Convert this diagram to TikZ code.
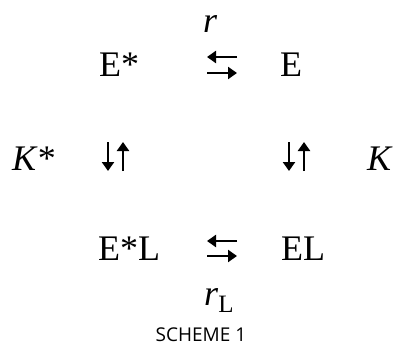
\documentclass[tikz,border=0pt]{standalone}
\usepackage{fontspec}
\setmainfont{Liberation Serif}
\newfontfamily\capfont{Open Sans}
\usetikzlibrary{arrows.meta}
\begin{document}
\begin{tikzpicture}[x=1pt,y=-1pt,
  lbl/.style={anchor=base west,inner sep=0pt,font=\fontsize{36}{40}\selectfont},
  rxn/.style={line width=2.9pt,-{Triangle[length=9pt,width=12pt]}}]
\useasboundingbox (0,0) rectangle (396,345);
% species
\node[lbl] (Es) at (99,77) {E*};
\node[lbl] (E) at (280,77) {E};
\node[lbl] (EsL) at (98,260) {E*L};
\node[lbl] (EL) at (281,260) {EL};
\node[lbl] (Ks) at (12,170) {\textit{K}*};
\node[lbl] (K) at (367,170) {\textit{K}};
\node[lbl] (r) at (203,33) {\textit{r}};
\node[lbl] (rL) at (204,305) {\textit{r}\raisebox{-7pt}{\fontsize{25}{28}\selectfont L}};
\node[anchor=base,inner sep=0pt,font=\capfont\fontsize{19}{22}\selectfont] (cap) at (201,341) {SCHEME 1};
% arrow end points
\coordinate (a1) at (237,57); \coordinate (a2) at (207,57);
\coordinate (b1) at (207,73); \coordinate (b2) at (237,73);
\coordinate (c1) at (237,241); \coordinate (c2) at (207,241);
\coordinate (d1) at (207,256); \coordinate (d2) at (237,256);
\coordinate (l1) at (108,142); \coordinate (l2) at (108,171);
\coordinate (l3) at (123,171); \coordinate (l4) at (123,142);
\coordinate (m1) at (289,142); \coordinate (m2) at (289,171);
\coordinate (m3) at (304,171); \coordinate (m4) at (304,142);
\draw[rxn] (a1) -- (a2);
\draw[rxn] (b1) -- (b2);
\draw[rxn] (c1) -- (c2);
\draw[rxn] (d1) -- (d2);
\draw[rxn] (l1) -- (l2);
\draw[rxn] (l3) -- (l4);
\draw[rxn] (m1) -- (m2);
\draw[rxn] (m3) -- (m4);
\end{tikzpicture}
\end{document}
